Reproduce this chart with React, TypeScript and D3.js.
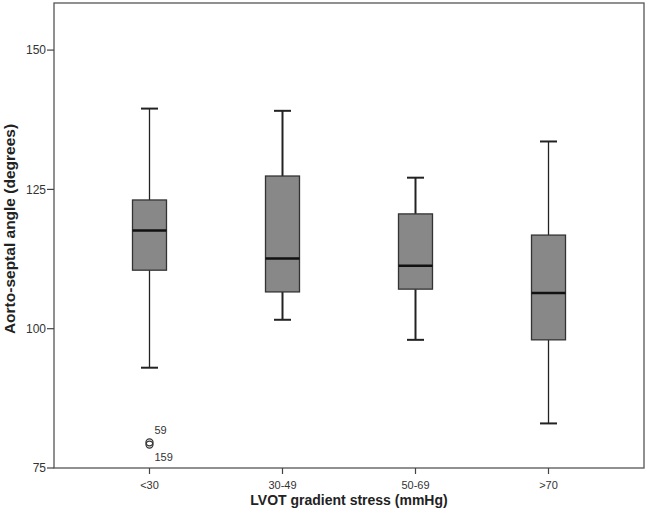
import React from "react";
import * as d3 from "d3";

const categories = ["<30", "30-49", "50-69", ">70"];
const whiskerLow = [93.0, 101.6, 98.0, 83.0];
const q1 = [110.5, 106.6, 107.1, 98.0];
const medians = [117.6, 112.6, 111.3, 106.4];
const q3 = [123.1, 127.4, 120.6, 116.8];
const whiskerHigh = [139.5, 139.1, 127.1, 133.6];
const outliers = [
  { cat: "<30", value: 79.6, label: "59" },
  { cat: "<30", value: 79.2, label: "159" },
];
const yTicks = [75, 100, 125, 150];

export default function App() {
  const W = 648, H = 519;
  const left = 54, right = 644, top = 3, bottom = 468;
  const y = d3.scaleLinear().domain([75, 158.45]).range([bottom, top]);
  const x = d3.scalePoint<string>().domain(categories).range([left, right]).padding(0.718);
  const boxW = 34;
  const capW = 17;
  const font = "'Liberation Sans', Arial, sans-serif";
  return (
    <svg width={W} height={H} style={{ position: "absolute", left: 0, top: 0, background: "#fff" }}>
      <rect x={left} y={top} width={right - left} height={bottom - top} fill="#fff" stroke="#555" strokeWidth={1.3} />
      {yTicks.map((t) => (
        <g key={t}>
          <line x1={left - 7} x2={left} y1={y(t)} y2={y(t)} stroke="#444" strokeWidth={1.2} />
          <text x={left - 8} y={y(t)} dy="0.35em" textAnchor="end" fontFamily={font} fontSize={12} fill="#333">
            {t}
          </text>
        </g>
      ))}
      {categories.map((c) => (
        <g key={c}>
          <line x1={x(c)} x2={x(c)} y1={bottom} y2={bottom + 6} stroke="#444" strokeWidth={1.2} />
          <text x={x(c)} y={bottom + 21} textAnchor="middle" fontFamily={font} fontSize={11} fill="#333">
            {c}
          </text>
        </g>
      ))}
      {categories.map((c, i) => {
        const cx = x(c)!;
        return (
          <g key={"b" + c}>
            <line x1={cx} x2={cx} y1={y(whiskerHigh[i])} y2={y(q3[i])} stroke="#222" strokeWidth={i === 0 || i === 3 ? 1.3 : 2} />
            <line x1={cx} x2={cx} y1={y(q1[i])} y2={y(whiskerLow[i])} stroke="#222" strokeWidth={i === 0 || i === 3 ? 1.3 : 2} />
            <line x1={cx - capW / 2} x2={cx + capW / 2} y1={y(whiskerHigh[i])} y2={y(whiskerHigh[i])} stroke="#222" strokeWidth={2} />
            <line x1={cx - capW / 2} x2={cx + capW / 2} y1={y(whiskerLow[i])} y2={y(whiskerLow[i])} stroke="#222" strokeWidth={2} />
            <rect x={cx - boxW / 2} y={y(q3[i])} width={boxW} height={y(q1[i]) - y(q3[i])} fill="#888888" stroke="#333" strokeWidth={1.3} />
            <line x1={cx - boxW / 2} x2={cx + boxW / 2} y1={y(medians[i])} y2={y(medians[i])} stroke="#111" strokeWidth={2.5} />
          </g>
        );
      })}
      {outliers.map((o, i) => (
        <g key={"o" + i}>
          <circle cx={x(o.cat)} cy={y(o.value)} r={3.5} fill="none" stroke="#333" strokeWidth={1.3} />
          <text
            x={x(o.cat)! + 5}
            y={i === 0 ? y(o.value) - 12 : y(o.value) + 13}
            dy="0.35em"
            fontFamily={font}
            fontSize={11}
            fill="#333"
          >
            {o.label}
          </text>
        </g>
      ))}
      <text
        transform={`translate(${10},${229}) rotate(-90)`}
        textAnchor="middle"
        dy="0.35em"
        fontFamily={font}
        fontSize={15.5}
        fontWeight="bold"
        fill="#222"
      >
        Aorto-septal angle (degrees)
      </text>
      <text x={(left + right) / 2} y={505} textAnchor="middle" fontFamily={font} fontSize={14} fontWeight="bold" fill="#222">
        LVOT gradient stress (mmHg)
      </text>
    </svg>
  );
}
